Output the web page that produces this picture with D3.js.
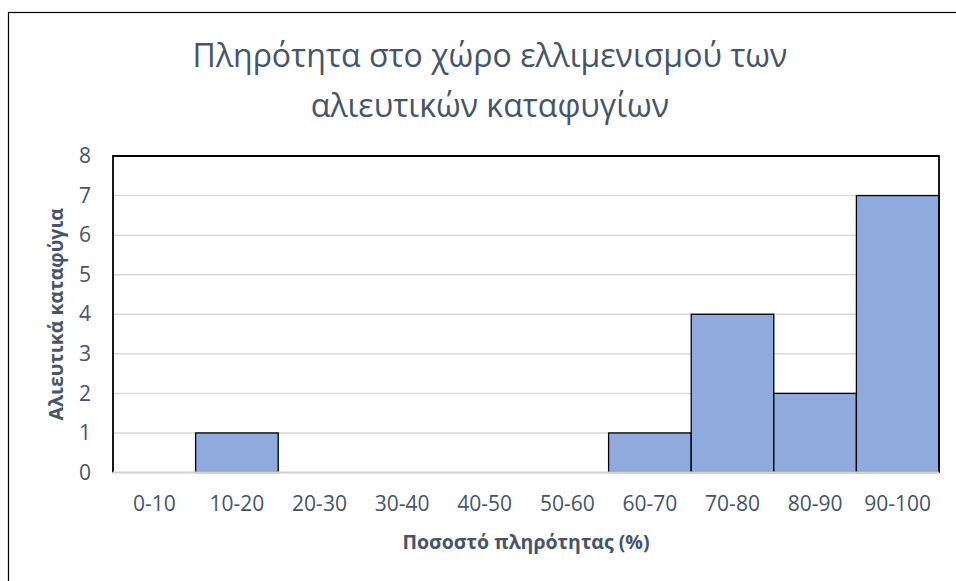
<!DOCTYPE html>
<html>
<head>
<meta charset="utf-8">
<script src="https://cdn.jsdelivr.net/npm/d3@7"></script>
<style>
  html, body { margin: 0; padding: 0; background: #fff; }
  svg { display: block; }
</style>
</head>
<body>
<svg id="chart" width="956" height="581"></svg>
<script>
// Histogram of berth occupancy for fishing shelters
const categories = ["0-10", "10-20", "20-30", "30-40", "40-50", "50-60", "60-70", "70-80", "80-90", "90-100"];
const counts = [0, 1, 0, 0, 0, 0, 1, 4, 2, 7];
const yTicks = [0, 1, 2, 3, 4, 5, 6, 7, 8];
const titleLines = ["Πληρότητα στο χώρο ελλιμενισμού των", "αλιευτικών καταφυγίων"];
const xTitle = "Ποσοστό πληρότητας (%)";
const yTitle = "Αλιευτικά καταφύγια";

const textColor = "#44546a";
const font = "'Open Sans', sans-serif";

const svg = d3.select("#chart");
const margin = { left: 113, right: 956 - 939, top: 156, bottom: 581 - 472.5 };
const width = 956 - margin.left - margin.right;
const height = 581 - margin.top - margin.bottom;

// outer chart frame (right/bottom edges fall outside the canvas)
svg.append("rect")
  .attr("x", 8.5).attr("y", 12.5)
  .attr("width", 1000).attr("height", 1000)
  .attr("fill", "none").attr("stroke", "#000").attr("stroke-width", 1.2);

const x = d3.scaleBand().domain(categories).range([0, width]).padding(0);
const y = d3.scaleLinear().domain([0, 8]).range([height, 0]);

const g = svg.append("g").attr("transform", `translate(${margin.left},${margin.top})`);

// gridlines
g.append("g")
  .selectAll("line")
  .data(yTicks.filter(d => d > 0 && d < 8))
  .join("line")
  .attr("x1", 0).attr("x2", width)
  .attr("y1", d => y(d)).attr("y2", d => y(d))
  .attr("stroke", "#d9d9d9").attr("stroke-width", 1.5);

// bars
g.append("g")
  .selectAll("rect")
  .data(categories.map((c, i) => ({ c, v: counts[i] })).filter(d => d.v > 0))
  .join("rect")
  .attr("x", d => x(d.c))
  .attr("y", d => y(d.v))
  .attr("width", x.bandwidth())
  .attr("height", d => y(0) - y(d.v))
  .attr("fill", "#8faadc")
  .attr("stroke", "#000")
  .attr("stroke-width", 1.3);

// plot border: black left/top/right, light gray baseline
g.append("path")
  .attr("d", `M0,${height} V0 H${width} V${height}`)
  .attr("fill", "none").attr("stroke", "#000").attr("stroke-width", 1.8);
g.append("line")
  .attr("x1", 0).attr("x2", width)
  .attr("y1", height).attr("y2", height)
  .attr("stroke", "#d0d0d0").attr("stroke-width", 2);

// y axis labels
const yAxis = d3.axisLeft(y).tickValues(yTicks).tickSize(0).tickPadding(22);
const yg = g.append("g").call(yAxis);
yg.select(".domain").remove();
yg.selectAll("text")
  .attr("fill", textColor)
  .style("font-family", font)
  .style("font-size", "21px");

// x axis labels
const xAxis = d3.axisBottom(x).tickSize(0).tickPadding(24);
const xg = g.append("g").attr("transform", `translate(0,${height})`).call(xAxis);
xg.select(".domain").remove();
xg.selectAll("text")
  .attr("fill", textColor)
  .style("font-family", font)
  .style("font-size", "21px");

// chart title
svg.append("g")
  .selectAll("text")
  .data(titleLines)
  .join("text")
  .attr("x", 490)
  .attr("y", (d, i) => 67 + i * 50)
  .attr("text-anchor", "middle")
  .attr("fill", textColor)
  .style("font-family", font)
  .style("font-size", "32px")
  .text(d => d);

// axis titles
svg.append("text")
  .attr("x", margin.left + width / 2)
  .attr("y", 549)
  .attr("text-anchor", "middle")
  .attr("fill", textColor)
  .style("font-family", font)
  .style("font-size", "19.5px")
  .style("font-weight", "bold")
  .text(xTitle);

svg.append("text")
  .attr("transform", `translate(63,${margin.top + height / 2}) rotate(-90)`)
  .attr("text-anchor", "middle")
  .attr("fill", textColor)
  .style("font-family", font)
  .style("font-size", "19.5px")
  .style("font-weight", "bold")
  .text(yTitle);
</script>
</body>
</html>
